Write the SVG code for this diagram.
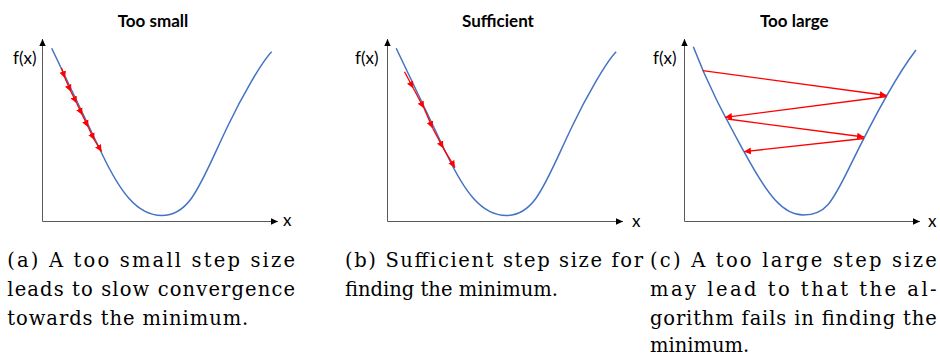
<svg xmlns="http://www.w3.org/2000/svg" width="940" height="356" viewBox="0 0 940 356">
<style>
.axis{stroke:#595959;stroke-width:1;fill:none}
.curve{stroke:#4472C4;stroke-width:1.5;fill:none}
.step{stroke:#FF0000;stroke-width:1.3;fill:none;marker-end:url(#redhead)}
.title{font-family:Lato,"Open Sans","Liberation Sans",sans-serif;font-weight:bold;font-size:17px;fill:#000;text-anchor:middle}
.lbl{font-family:Lato,"Open Sans","Liberation Sans",sans-serif;font-size:17px;fill:#000}
.cap{font-family:"DejaVu Serif","Liberation Serif",serif;font-size:19.5px;fill:#000}
</style>
<defs>
<marker id="axhead" markerUnits="userSpaceOnUse" markerWidth="8" markerHeight="8" refX="7" refY="4" orient="auto">
<path d="M0,0.8 L7,4 L0,7.2 z" fill="#000"/>
</marker>
<marker id="redhead" markerUnits="userSpaceOnUse" markerWidth="8" markerHeight="8" refX="7" refY="4" orient="auto">
<path d="M0,0.6 L7,4 L0,7.4 z" fill="#FF0000"/>
</marker>
</defs>
<rect width="940" height="356" fill="#fff"/>

<g id="panel-a">
<text class="title" x="153" y="27">Too small</text>
<path class="axis" d="M42.5,221.5 V39" marker-end="url(#axhead)"/>
<path class="axis" d="M42.5,221.5 H278" marker-end="url(#axhead)"/>
<text class="lbl" x="13" y="64">f(x)</text>
<text class="lbl" x="283" y="226">x</text>
<path class="curve" d="M51.7,48.3 C68,83 85,118 101.7,153.3 C119.7,191.1 136.7,215.5 161.7,215.5 C191.7,215.5 201.3,181 228.3,125 C241.3,97.7 261.7,61.7 271.7,51.7"/>
<g id="steps-a">
<path class="step" d="M61.5,68 L65,78.3"/>
<path class="step" d="M65,78.3 L71,91.7"/>
<path class="step" d="M71,91.7 L76.7,103.3"/>
<path class="step" d="M76.7,103.3 L82.3,115"/>
<path class="step" d="M82.3,115 L88.3,127.3"/>
<path class="step" d="M88.3,127.3 L94.3,140"/>
<path class="step" d="M94.3,140 L101.7,151.7"/>
</g>
<text class="cap" x="7.3" y="266.7" textLength="287.7" lengthAdjust="spacing">(a) A too small step size</text>
<text class="cap" x="7.3" y="296" textLength="287.7" lengthAdjust="spacing">leads to slow convergence</text>
<text class="cap" x="7.3" y="325" textLength="241" lengthAdjust="spacing">towards the minimum.</text>
</g>

<g id="panel-b">
<text class="title" x="498" y="27">Sufficient</text>
<path class="axis" d="M387.5,221.5 V39" marker-end="url(#axhead)"/>
<path class="axis" d="M387.5,221.5 H623" marker-end="url(#axhead)"/>
<text class="lbl" x="355" y="63.5">f(x)</text>
<text class="lbl" x="632" y="226.5">x</text>
<path class="curve" transform="translate(344.5,0)" d="M51.7,48.3 C68,83 85,118 101.7,153.3 C119.7,191.1 136.7,215.5 161.7,215.5 C191.7,215.5 201.3,181 228.3,125 C241.3,97.7 261.7,61.7 271.7,51.7"/>
<g id="steps-b">
<path class="step" d="M404.5,71.7 L413.3,88.3"/>
<path class="step" d="M413.3,88.3 L424,108.3"/>
<path class="step" d="M424,108.3 L432.7,128.3"/>
<path class="step" d="M432.7,128.3 L443.3,148.3"/>
<path class="step" d="M443.3,148.3 L455,167.7"/>
</g>
<text class="cap" x="345" y="266.7" textLength="298" lengthAdjust="spacing">(b) Sufficient step size for</text>
<text class="cap" x="345" y="296">finding the minimum.</text>
</g>

<g id="panel-c">
<text class="title" x="794.3" y="27">Too large</text>
<path class="axis" d="M684.5,221.5 V39" marker-end="url(#axhead)"/>
<path class="axis" d="M684.5,221.5 H920" marker-end="url(#axhead)"/>
<text class="lbl" x="653" y="64">f(x)</text>
<text class="lbl" x="928" y="226.5">x</text>
<path class="curve" d="M693.3,46.7 C710.3,90.9 727,120.2 744,151.7 C768,196.1 783.3,215 803.3,215 C825.3,215 832,203.1 850,166.2 C872,121.1 894,78.6 916,50"/>
<g id="steps-c">
<path class="step" d="M702.7,70.7 L886.7,95.5"/>
<path class="step" d="M886.7,96.5 L725,117.3"/>
<path class="step" d="M727.5,119 L864,137"/>
<path class="step" d="M864,138.5 L744,151.7"/>
</g>
<text class="cap" x="650" y="266.7" textLength="286.7" lengthAdjust="spacing">(c) A too large step size</text>
<text class="cap" x="650" y="296" textLength="286.7" lengthAdjust="spacing">may lead to that the al-</text>
<text class="cap" x="650" y="325" textLength="286.7" lengthAdjust="spacing">gorithm fails in finding the</text>
<text class="cap" x="650" y="352">minimum.</text>
</g>
</svg>
